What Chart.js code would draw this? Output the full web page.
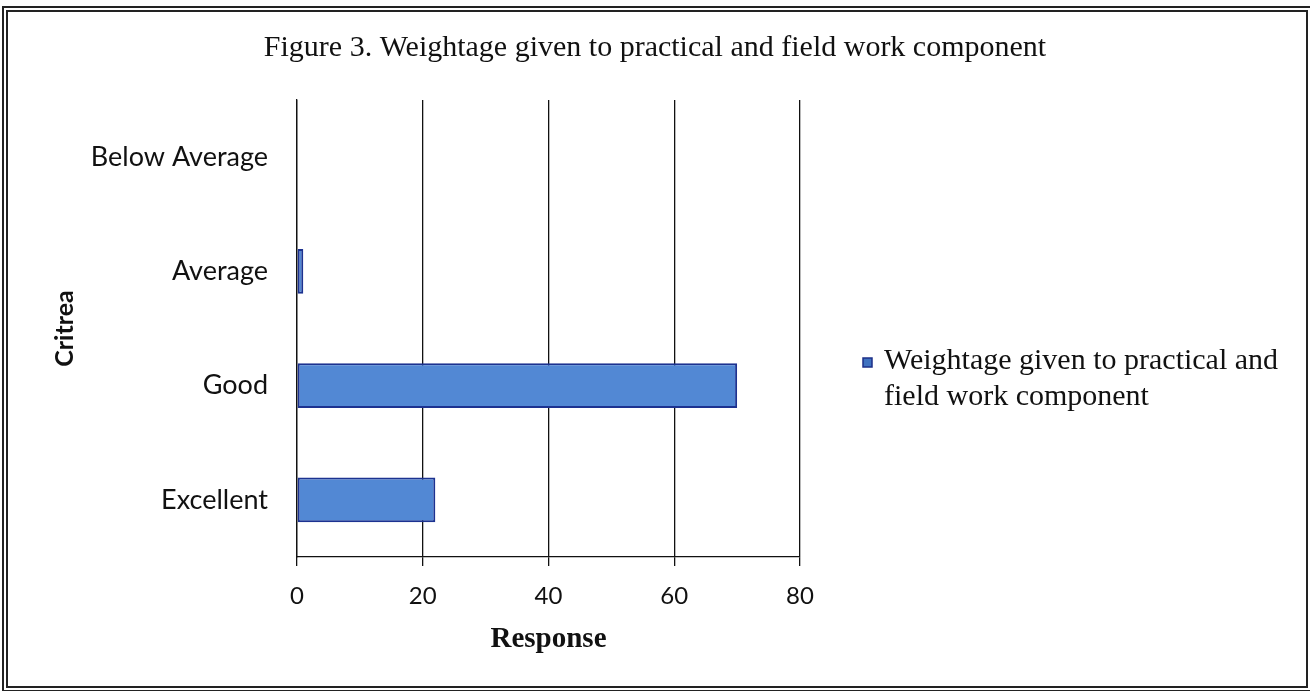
<!DOCTYPE html>
<html>
<head>
<meta charset="utf-8">
<script src="https://cdn.jsdelivr.net/npm/chart.js@4.4.0/dist/chart.umd.min.js"></script>
<style>
  html, body { margin: 0; padding: 0; background: #fff; }
  #wrap { position: absolute; left: 0; top: 0; width: 1310px; height: 691px; }
  #frame { position: absolute; left: 2px; top: 6px; width: 1298px; height: 674px; border: 6px double #222; pointer-events: none; }
</style>
</head>
<body>
<div id="wrap">
  <canvas id="chart1" width="1310" height="691"></canvas>
  <div id="frame"></div>
</div>
<script>
// 카테고리 / 값
const criteria = ['Below Average', 'Average', 'Good', 'Excellent'];
const responses = [0, 1, 70, 22];
const xTicks = [0, 20, 40, 60, 80];
const chartTitle = 'Figure 3. Weightage given to practical and field work component';
const seriesLabel = 'Weightage given to practical and field work component';
const legendLines = ['Weightage given to practical and', 'field work component'];

const serif = '"Liberation Serif", "Times New Roman", serif';
const sans = 'Lato, "Open Sans", sans-serif';

// 제목 + 오른쪽 범례 (두 줄)
const extraText = {
  id: 'extraText',
  afterDraw(chart) {
    const ctx = chart.ctx;
    ctx.save();
    ctx.fillStyle = '#111';
    ctx.font = '30px ' + serif;
    ctx.textAlign = 'center';
    ctx.textBaseline = 'middle';
    ctx.fillText(chartTitle, 655, 48);

    ctx.fillStyle = '#3f72c0';
    ctx.strokeStyle = '#1c2f88';
    ctx.lineWidth = 1.5;
    ctx.fillRect(863, 358, 9, 9);
    ctx.strokeRect(863, 358, 9, 9);
    ctx.fillStyle = '#111';
    ctx.font = '30px ' + serif;
    ctx.textAlign = 'left';
    ctx.textBaseline = 'alphabetic';
    legendLines.forEach(function (t, i) {
      ctx.fillText(t, 884, 369 + i * 36);
    });
    ctx.restore();
  }
};

new Chart(document.getElementById('chart1'), {
  type: 'bar',
  data: {
    labels: criteria,
    datasets: [{
      label: seriesLabel,
      data: responses,
      backgroundColor: '#5288d4',
      borderColor: '#1c3290',
      borderWidth: 2,
      borderSkipped: false,
      barPercentage: 0.8,
      categoryPercentage: 0.49
    }]
  },
  options: {
    indexAxis: 'y',
    responsive: false,
    animation: false,
    layout: { padding: { left: 0, right: 510, top: 100, bottom: 34 } },
    plugins: {
      legend: { display: false },
      tooltip: { enabled: false },
      title: { display: false }
    },
    scales: {
      x: {
        min: 0,
        max: 80,
        afterBuildTicks(scale) {
          scale.ticks = xTicks.map(function (v) { return { value: v }; });
        },
        afterFit(scale) { scale.height = 100; },
        grid: { color: '#111', lineWidth: 1.3, tickLength: 9, drawTicks: true },
        border: { color: '#111', width: 1.3 },
        ticks: {
          color: '#111',
          padding: 16,
          font: { family: sans, size: 24 }
        },
        title: {
          display: true,
          text: 'Response',
          color: '#111',
          font: { family: serif, size: 29, weight: 'bold' },
          padding: { top: 0, bottom: 0 }
        }
      },
      y: {
        afterFit(scale) { scale.width = 297; },
        grid: { display: false, drawTicks: false },
        border: { display: true, color: '#111', width: 1.3 },
        ticks: {
          color: '#111',
          padding: 29,
          font: { family: sans, size: 27 }
        },
        title: {
          display: true,
          text: 'Critrea',
          color: '#111',
          font: { family: sans, size: 25, weight: 'bold' },
          padding: { top: 50, bottom: 0 }
        }
      }
    }
  },
  plugins: [extraText]
});
</script>
</body>
</html>
